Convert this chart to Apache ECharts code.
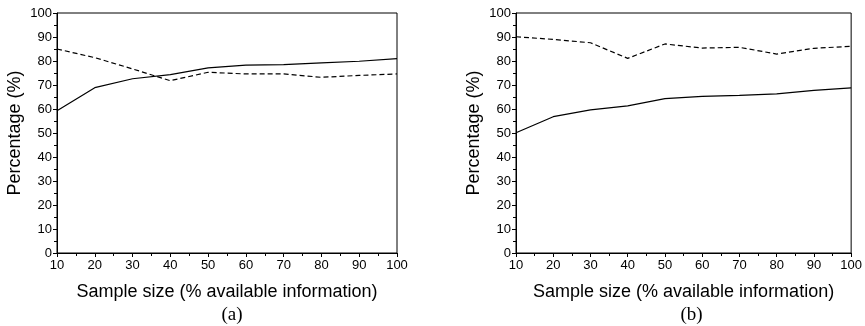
<!DOCTYPE html>
<html>
<head>
<meta charset="utf-8">
<script src="https://cdn.jsdelivr.net/npm/echarts@6/dist/echarts.min.js"></script>
<style>
  html, body { margin: 0; padding: 0; background: #fff; }
  #main { width: 865px; height: 326px; }
</style>
</head>
<body>
<div id="main"></div>
<script>
const sampleSizes = [10, 20, 30, 40, 50, 60, 70, 80, 90, 100];

// panel (a)
const aSolid = [59.3, 68.9, 72.6, 74.3, 77.1, 78.3, 78.5, 79.2, 79.9, 81.0];
const aDashed = [85.0, 81.4, 76.7, 71.8, 75.3, 74.6, 74.6, 73.2, 74.0, 74.6];

// panel (b)
const bSolid = [50.1, 56.8, 59.6, 61.3, 64.3, 65.3, 65.7, 66.3, 67.8, 68.8];
const bDashed = [90.1, 89.0, 87.6, 81.1, 87.1, 85.4, 85.7, 82.9, 85.3, 86.1];

const panelLabels = ['(a)', '(b)'];
const xName = 'Sample size (% available information)';
const yName = 'Percentage (%)';

const chart = echarts.init(document.getElementById('main'));

const pairs = (ys) => sampleSizes.map((x, i) => [x, ys[i]]);

const grids = [
  { left: 57, top: 13, width: 340, height: 240 },
  { left: 516, top: 13, width: 341, height: 240 },
];

const axisText = { color: '#000', fontFamily: 'Liberation Sans, Arial', fontSize: 13 };

function xAxisFor(idx) {
  return {
    type: 'value',
    gridIndex: idx,
    min: 10,
    max: 100,
    interval: 10,
    name: xName,
    nameLocation: 'middle',
    nameGap: 30,
    nameTextStyle: { color: '#000', fontFamily: 'Liberation Sans, Arial', fontSize: 18 },
    axisLine: { show: true, onZero: false, lineStyle: { color: '#000', width: 1 } },
    axisTick: { show: true, length: 4, lineStyle: { color: '#000' } },
    minorTick: { show: true, splitNumber: 2, length: 3, lineStyle: { color: '#000' } },
    axisLabel: Object.assign({ margin: 6 }, axisText),
    splitLine: { show: false },
  };
}

function yAxisFor(idx) {
  return {
    type: 'value',
    gridIndex: idx,
    min: 0,
    max: 100,
    interval: 10,
    name: yName,
    nameLocation: 'middle',
    nameGap: 33,
    nameTextStyle: { color: '#000', fontFamily: 'Liberation Sans, Arial', fontSize: 18 },
    axisLine: { show: true, lineStyle: { color: '#000', width: 1 } },
    axisTick: { show: true, length: 4, lineStyle: { color: '#000' } },
    minorTick: { show: true, splitNumber: 2, length: 3, lineStyle: { color: '#000' } },
    axisLabel: Object.assign({ margin: 5 }, axisText),
    splitLine: { show: false },
  };
}

function lineSeries(idx, ys, dashed) {
  return {
    type: 'line',
    xAxisIndex: idx,
    yAxisIndex: idx,
    data: pairs(ys),
    showSymbol: false,
    symbol: 'none',
    animation: false,
    lineStyle: { color: '#000', width: 1.2, type: dashed ? [5, 3] : 'solid' },
  };
}

chart.setOption({
  animation: false,
  backgroundColor: '#fff',
  title: grids.map((g, i) => ({
    text: panelLabels[i],
    left: g.left + g.width / 2,
    textAlign: 'center',
    top: 301,
    textStyle: { color: '#000', fontFamily: 'Liberation Serif, Times New Roman', fontSize: 19, fontWeight: 'normal' },
  })),
  grid: grids.map((g) => Object.assign({ show: true, borderColor: '#000', borderWidth: 1 }, g)),
  xAxis: [xAxisFor(0), xAxisFor(1)],
  yAxis: [yAxisFor(0), yAxisFor(1)],
  series: [
    lineSeries(0, aSolid, false),
    lineSeries(0, aDashed, true),
    lineSeries(1, bSolid, false),
    lineSeries(1, bDashed, true),
  ],
});
</script>
</body>
</html>
